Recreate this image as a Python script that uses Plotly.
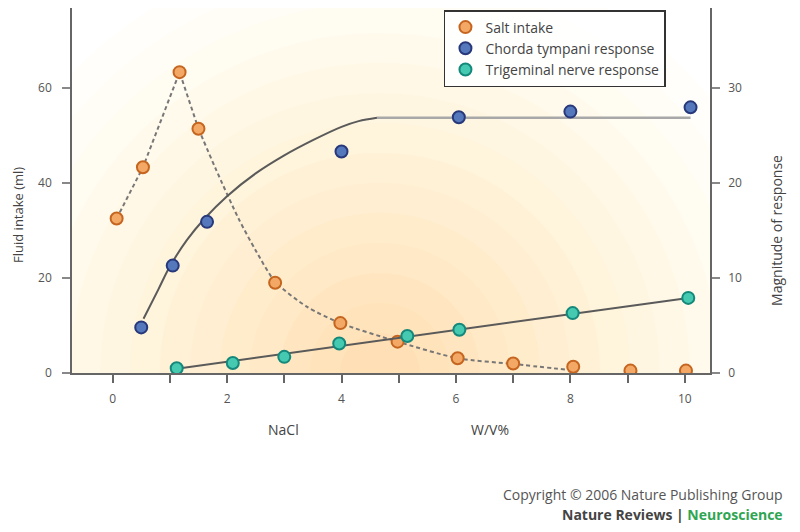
import plotly.graph_objects as go

# ---- data ----
salt_x = [0.07, 0.53, 1.17, 1.5, 2.84, 3.98, 4.98, 6.03, 7.0, 8.05, 9.05, 10.02]
salt_y = [32.5, 43.3, 63.3, 51.4, 19.0, 10.5, 6.6, 3.1, 2.0, 1.3, 0.5, 0.5]

chorda_x = [0.5, 1.05, 1.65, 4.0, 6.05, 8.0, 10.1]
chorda_y = [4.8, 11.3, 15.9, 23.3, 26.9, 27.5, 27.95]

trig_x = [1.12, 2.1, 3.0, 3.96, 5.15, 6.06, 8.04, 10.06]
trig_y = [0.5, 1.05, 1.7, 3.1, 3.9, 4.55, 6.3, 7.9]

# fitted / guide lines as drawn in the figure
salt_rise_x = [0.07, 0.53, 1.17, 1.5]
salt_rise_y = [32.5, 43.3, 63.3, 51.4]
salt_fall_x = [1.5, 1.8, 2.2, 2.5, 2.84, 3.4, 3.98, 4.98, 6.03, 7.0, 8.0]
salt_fall_y = [51.4, 43.0, 32.5, 25.8, 19.2, 13.9, 10.5, 6.6, 3.1, 1.9, 0.6]

chorda_fit_x = [0.54, 0.8, 1.0, 1.3, 1.6, 2.0, 2.5, 3.0, 3.5, 4.0, 4.3, 4.62]
chorda_fit_y = [5.7, 8.8, 11.2, 14.0, 16.2, 18.6, 21.0, 22.9, 24.5, 25.9, 26.5, 26.85]
plateau_x = [4.62, 10.1]
plateau_y = [26.85, 26.85]

trig_fit_x = [1.12, 10.06]
trig_fit_y = [0.45, 7.9]

x_ticks = list(range(0, 11))
x_ticktext = [str(v) if v % 2 == 0 else "" for v in x_ticks]
left_ticks = [0, 20, 40, 60]
right_ticks = [0, 10, 20, 30]

X_RANGE = [-0.71, 10.44]
Y_RANGE = [0, 76.8]
Y2_RANGE = [0, 38.4]

FONT = "Open Sans"
GREY = "#555555"

fig = go.Figure()

# guide lines
fig.add_trace(go.Scatter(x=salt_rise_x, y=salt_rise_y, mode="lines",
                         line=dict(color="#777777", width=2, dash="4px,3px"),
                         showlegend=False, hoverinfo="skip"))
fig.add_trace(go.Scatter(x=salt_fall_x, y=salt_fall_y, mode="lines",
                         line=dict(color="#777777", width=2, dash="4px,3px", shape="spline", smoothing=0.7),
                         showlegend=False, hoverinfo="skip"))
fig.add_trace(go.Scatter(x=chorda_fit_x, y=chorda_fit_y, mode="lines", yaxis="y2",
                         line=dict(color="#5a5a5a", width=2, shape="spline", smoothing=1),
                         showlegend=False, hoverinfo="skip"))
fig.add_trace(go.Scatter(x=plateau_x, y=plateau_y, mode="lines", yaxis="y2",
                         line=dict(color="#a8a8a8", width=2.5),
                         showlegend=False, hoverinfo="skip"))
fig.add_trace(go.Scatter(x=trig_fit_x, y=trig_fit_y, mode="lines", yaxis="y2",
                         line=dict(color="#5a5a5a", width=2),
                         showlegend=False, hoverinfo="skip"))

# data points
fig.add_trace(go.Scatter(x=salt_x, y=salt_y, mode="markers", name="Salt intake",
                         marker=dict(size=12, color="#f3a965", line=dict(color="#c5651f", width=2))))
fig.add_trace(go.Scatter(x=chorda_x, y=chorda_y, mode="markers", name="Chorda tympani response", yaxis="y2",
                         marker=dict(size=12, color="#5577bb", line=dict(color="#27397a", width=2))))
fig.add_trace(go.Scatter(x=trig_x, y=trig_y, mode="markers", name="Trigeminal nerve response", yaxis="y2",
                         marker=dict(size=12, color="#45c9b1", line=dict(color="#14887a", width=2))))

# soft radial background glow (decoration) built from concentric translucent circles
PLOT_W, PLOT_H = 638, 365
px_per_x = PLOT_W / (X_RANGE[1] - X_RANGE[0])
px_per_y = PLOT_H / (Y_RANGE[1] - Y_RANGE[0])
cx, cy = 4.67, 0.0
shapes = []
radii = list(range(430, 20, -30))
for i, r in enumerate(radii):
    t = i / (len(radii) - 1)
    g = int(238 - 55 * t)
    b = int(160 - 50 * t)
    a = 0.045 + 0.02 * t
    shapes.append(dict(type="circle", xref="x", yref="y", layer="below",
                       x0=cx - r / px_per_x, x1=cx + r / px_per_x,
                       y0=cy - r / px_per_y, y1=cy + r / px_per_y,
                       fillcolor=f"rgba(250,{g},{b},{a:.3f})", line=dict(width=0)))

fig.update_layout(
    width=800, height=532,
    margin=dict(l=64, r=98, t=0, b=167),
    paper_bgcolor="white", plot_bgcolor="white",
    font=dict(family=FONT, size=12, color=GREY),
    shapes=shapes,
    xaxis=dict(range=X_RANGE, tickvals=x_ticks, ticktext=x_ticktext,
               showgrid=False, zeroline=False, showline=True, linecolor="#666", linewidth=1.5,
               ticks="outside", ticklen=8, tickwidth=1.5, tickcolor="#666",
               ticklabelstandoff=6, tickfont=dict(size=12, color=GREY)),
    yaxis=dict(range=Y_RANGE, tickvals=left_ticks, showgrid=False, zeroline=False,
               showline=True, linecolor="#666", linewidth=1.5,
               ticks="outside", ticklen=8, tickwidth=1.5, tickcolor="#888",
               ticklabelstandoff=8, tickfont=dict(size=12, color=GREY)),
    yaxis2=dict(range=Y2_RANGE, tickvals=right_ticks, overlaying="y", side="right",
                showgrid=False, zeroline=False, showline=True, linecolor="#666", linewidth=1.5,
                ticks="outside", ticklen=8, tickwidth=1.5, tickcolor="#888",
                ticklabelstandoff=6, tickfont=dict(size=12, color=GREY)),
    legend=dict(x=0.583, y=0.9945, xanchor="left", yanchor="top",
                bordercolor="#333", borderwidth=1.5, bgcolor="rgba(255,255,255,0.9)",
                font=dict(family=FONT, size=14, color="#444"), itemwidth=30),
    showlegend=True,
)

annotations = [
    dict(text="NaCl", x=0.332, y=-0.156, xref="paper", yref="paper", showarrow=False,
         xanchor="center", yanchor="middle", font=dict(size=14, color="#444")),
    dict(text="W/V%", x=0.655, y=-0.156, xref="paper", yref="paper", showarrow=False,
         xanchor="center", yanchor="middle", font=dict(size=14, color="#444")),
    dict(text="Fluid intake (ml)", x=-0.0846, y=0.433, xref="paper", yref="paper", showarrow=False,
         xanchor="center", yanchor="middle", textangle=-90, font=dict(size=13, color="#444")),
    dict(text="Magnitude of response", x=1.105, y=0.392, xref="paper", yref="paper", showarrow=False,
         xanchor="center", yanchor="middle", textangle=-90, font=dict(size=14, color="#444")),
    dict(text="Copyright © 2006 Nature Publishing Group", x=1.1176, y=-0.332, xref="paper", yref="paper",
         xanchor="right", yanchor="middle", showarrow=False, font=dict(size=14, color="#555")),
    dict(text="<b>Nature Reviews | <span style='color:#2fa552'>Neuroscience</span></b>", x=1.1176, y=-0.389,
         xref="paper", yref="paper", xanchor="right", yanchor="middle", showarrow=False,
         font=dict(size=14, color="#444")),
]
fig.update_layout(annotations=annotations)

fig.write_html("out.html")
